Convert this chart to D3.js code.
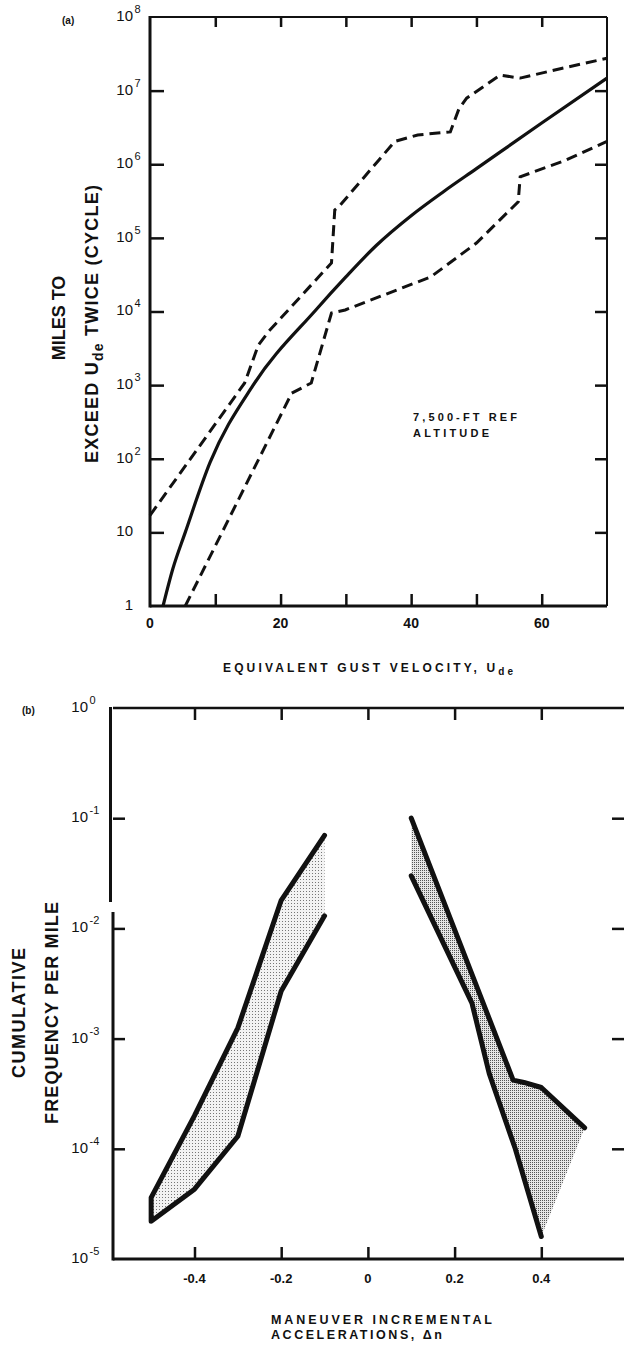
<!DOCTYPE html>
<html>
<head>
<meta charset="utf-8">
<script src="https://cdn.jsdelivr.net/npm/d3@7"></script>
<style>
  body { margin: 0; background: #fff; }
  svg { display: block; font-family: "Liberation Sans", Arial, Helvetica, sans-serif; }
</style>
</head>
<body>
<svg id="fig" width="624" height="1347"></svg>
<script>
// ---------- (a) miles to exceed a gust velocity twice ----------
const gustLabelTicks = [0, 20, 40, 60];
const gustTicks = [10, 20, 30, 40, 50, 60];
const milesTicks = [1, 10, 1e2, 1e3, 1e4, 1e5, 1e6, 1e7, 1e8];

const meanGust  = [2, 3.5, 5.4, 9.2, 15.8, 25.4, 30, 34.7, 40, 45, 50, 60, 70];
const meanMiles = [1, 3.2, 10, 89, 1000, 10500, 29500, 79400, 200000, 427000, 871000, 3.63e6, 1.48e7];

const upperGust  = [0, 14.5, 16.6, 18.2, 27.8, 28.3, 29, 37.5, 41, 46, 47.3, 48.5, 53.6, 56.7, 63, 70];
const upperMiles = [17, 1070, 3500, 5400, 45700, 240000, 270000, 2.04e6, 2.5e6, 2.75e6, 5.6e6, 7.9e6, 1.62e7, 1.48e7, 2.0e7, 2.75e7];

const lowerGust  = [5.4, 21.7, 24.7, 27.8, 29.9, 36, 43, 50, 56.4, 56.7, 63.3, 70];
const lowerMiles = [1, 776, 1070, 9550, 10500, 17000, 29500, 85000, 309000, 676000, 1.1e6, 2.04e6];

// ---------- (b) maneuver load factor exceedance ----------
const accelTicks = [-0.4, -0.2, 0, 0.2, 0.4];
const accelTickLabels = ["-0.4", "-0.2", "0", "0.2", "0.4"];
const freqTicks = [1, 1e-1, 1e-2, 1e-3, 1e-4, 1e-5];
const freqExponents = ["0", "-1", "-2", "-3", "-4", "-5"];

const negAccel     = [-0.5, -0.4, -0.3, -0.2, -0.1];
const negUpperFreq = [3.6e-5, 2e-4, 1.25e-3, 1.8e-2, 7e-2];
const negLowerFreq = [2.2e-5, 4.3e-5, 1.3e-4, 2.7e-3, 1.3e-2];

const posUpperAccel = [0.1, 0.335, 0.36, 0.4, 0.5];
const posUpperFreq  = [0.1, 4.2e-4, 4e-4, 3.6e-4, 1.55e-4];
const posLowerAccel = [0.1, 0.24, 0.28, 0.34, 0.4];
const posLowerFreq  = [3e-2, 2.1e-3, 4.8e-4, 1.0e-4, 1.6e-5];

const svg = d3.select("#fig");
const ink = "#111";

// stipple fills for the scatter bands
const defs = svg.append("defs");
const light = defs.append("pattern").attr("id", "stippleLight")
  .attr("width", 3).attr("height", 3).attr("patternUnits", "userSpaceOnUse");
light.append("rect").attr("width", 3).attr("height", 3).attr("fill", "#f3f3f3");
light.append("rect").attr("x", 0).attr("y", 0).attr("width", 1).attr("height", 1).attr("fill", "#777");
const dense = defs.append("pattern").attr("id", "stippleDense")
  .attr("width", 2).attr("height", 2).attr("patternUnits", "userSpaceOnUse");
dense.append("rect").attr("width", 2).attr("height", 2).attr("fill", "#e6e6e6");
dense.append("rect").attr("x", 0).attr("y", 0).attr("width", 1).attr("height", 1).attr("fill", "#555");

function zip(xs, ys) { return xs.map((x, i) => ({ x, y: ys[i] })); }

// "10" with a raised exponent, the base right-aligned at bx
function powerLabel(g, bx, y, base, exp, size, expSize) {
  g.append("text").attr("x", bx).attr("y", y).attr("text-anchor", "end")
    .attr("dominant-baseline", "middle").attr("font-size", size).attr("fill", ink).text(base);
  if (exp !== null) {
    g.append("text").attr("x", bx + 1.5).attr("y", y - 7).attr("dominant-baseline", "middle")
      .attr("font-size", expSize).attr("fill", ink).text(exp);
  }
}

// ================= (a) =================
const xa = d3.scaleLinear().domain([0, 70]).range([150, 607]);
const ya = d3.scaleLog().domain([1, 1e8]).range([606, 17]);
const ga = svg.append("g");

// frame
ga.append("line").attr("x1", xa(0)).attr("x2", xa(70)).attr("y1", ya(1e8)).attr("y2", ya(1e8))
  .attr("stroke", ink).attr("stroke-width", 2);
ga.append("line").attr("x1", xa(70)).attr("x2", xa(70)).attr("y1", ya(1e8)).attr("y2", ya(1))
  .attr("stroke", ink).attr("stroke-width", 2);

// inward ticks
ga.append("g").attr("transform", `translate(0,${ya(1)})`)
  .call(d3.axisBottom(xa).tickValues(gustTicks).tickSize(-12).tickFormat(""))
  .call(g => g.select(".domain").remove())
  .call(g => g.selectAll("line").attr("stroke", ink).attr("stroke-width", 2.5));
ga.append("g").attr("transform", `translate(0,${ya(1e8)})`)
  .call(d3.axisTop(xa).tickValues(gustTicks).tickSize(-10).tickFormat(""))
  .call(g => g.select(".domain").remove())
  .call(g => g.selectAll("line").attr("stroke", ink).attr("stroke-width", 2.5));
ga.append("g").attr("transform", `translate(${xa(0)},0)`)
  .call(d3.axisLeft(ya).tickValues(milesTicks.slice(1, -1)).tickSize(-14).tickFormat(""))
  .call(g => g.select(".domain").remove())
  .call(g => g.selectAll("line").attr("stroke", ink).attr("stroke-width", 2.5));
ga.append("g").attr("transform", `translate(${xa(70)},0)`)
  .call(d3.axisRight(ya).tickValues(milesTicks.slice(1, -1)).tickSize(-12).tickFormat(""))
  .call(g => g.select(".domain").remove())
  .call(g => g.selectAll("line").attr("stroke", ink).attr("stroke-width", 2.5));

// heavy left and bottom axes
ga.append("line").attr("x1", xa(0)).attr("x2", xa(0)).attr("y1", ya(1e8) - 1).attr("y2", ya(1) + 1.5)
  .attr("stroke", ink).attr("stroke-width", 3);
ga.append("line").attr("x1", xa(0)).attr("x2", xa(70)).attr("y1", ya(1)).attr("y2", ya(1))
  .attr("stroke", ink).attr("stroke-width", 3);

// tick labels
gustLabelTicks.forEach(v => {
  ga.append("text").attr("x", xa(v)).attr("y", ya(1) + 22).attr("text-anchor", "middle")
    .attr("font-size", 14).attr("font-weight", "bold").attr("fill", ink).text(v);
});
milesTicks.forEach(v => {
  const e = Math.round(Math.log10(v));
  if (e === 0) powerLabel(ga, 133, ya(v), "1", null, 15, 11);
  else if (e === 1) powerLabel(ga, 133, ya(v), "10", null, 15, 11);
  else powerLabel(ga, 133, ya(v), "10", String(e), 15, 11);
});

// curves
const lineA = d3.line().x(d => xa(d.x)).y(d => ya(d.y));
ga.append("path").datum(zip(meanGust, meanMiles))
  .attr("d", lineA.curve(d3.curveMonotoneX)).attr("fill", "none")
  .attr("stroke", ink).attr("stroke-width", 3.2);
const lineDash = d3.line().x(d => xa(d.x)).y(d => ya(d.y)).curve(d3.curveLinear);
[zip(upperGust, upperMiles), zip(lowerGust, lowerMiles)].forEach(pts => {
  ga.append("path").datum(pts).attr("d", lineDash).attr("fill", "none")
    .attr("stroke", ink).attr("stroke-width", 3).attr("stroke-dasharray", "11,6");
});

// labels
ga.append("text").attr("x", 62).attr("y", 24).attr("font-size", 10).attr("font-weight", "bold")
  .attr("fill", ink).text("(a)");
ga.append("text").attr("x", 413).attr("y", 421).attr("font-size", 11).attr("font-weight", "bold")
  .attr("fill", ink).attr("textLength", 104).attr("lengthAdjust", "spacing").text("7,500-FT REF");
ga.append("text").attr("x", 413).attr("y", 437).attr("font-size", 11).attr("font-weight", "bold")
  .attr("fill", ink).attr("textLength", 76).attr("lengthAdjust", "spacing").text("ALTITUDE");

const yLabA = ga.append("g").attr("transform", "translate(0,320) rotate(-90)")
  .attr("font-weight", "bold").attr("fill", ink).attr("text-anchor", "middle");
yLabA.append("text").attr("x", 2).attr("y", 65).attr("font-size", 18).text("MILES TO");
const l2 = yLabA.append("text").attr("x", -4).attr("y", 98).attr("font-size", 18)
  .attr("textLength", 278).attr("lengthAdjust", "spacing");
l2.append("tspan").text("EXCEED U");
l2.append("tspan").attr("dy", 5).attr("font-size", 14).text("de");
l2.append("tspan").attr("dy", -5).text(" TWICE (CYCLE)");

const xLabA = ga.append("text").attr("x", 368).attr("y", 672).attr("text-anchor", "middle")
  .attr("font-size", 12).attr("font-weight", "bold").attr("fill", ink)
  .attr("textLength", 290).attr("lengthAdjust", "spacing");
xLabA.append("tspan").text("EQUIVALENT GUST VELOCITY, U");
xLabA.append("tspan").attr("dy", 3).attr("font-size", 10).text("de");

// ================= (b) =================
const xb = d3.scaleLinear().domain([-0.588, 0.6]).range([113, 628]);
const yb = d3.scaleLog().domain([1e-5, 1]).range([1259, 708]);
const gb = svg.append("g");

// bands
const lineB = d3.line().x(d => xb(d.x)).y(d => yb(d.y));
const negUpper = zip(negAccel, negUpperFreq);
const negLower = zip(negAccel, negLowerFreq);
const posUpper = zip(posUpperAccel, posUpperFreq);
const posLower = zip(posLowerAccel, posLowerFreq);

gb.append("path").datum(negUpper.concat(negLower.slice().reverse()))
  .attr("d", d => lineB(d) + "Z").attr("fill", "url(#stippleLight)");
gb.append("path").datum(posUpper.concat(posLower.slice().reverse()))
  .attr("d", d => lineB(d) + "Z").attr("fill", "url(#stippleDense)");

const bandStroke = p => p.attr("fill", "none").attr("stroke", ink).attr("stroke-width", 5)
  .attr("stroke-linejoin", "round").attr("stroke-linecap", "round");
gb.append("path").datum(negUpper.slice().reverse().concat(negLower)).attr("d", lineB).call(bandStroke);
gb.append("path").datum(posUpper).attr("d", lineB).call(bandStroke);
gb.append("path").datum(posLower).attr("d", lineB).call(bandStroke);

// frame and ticks
gb.append("line").attr("x1", xb(-0.588)).attr("x2", 624).attr("y1", yb(1)).attr("y2", yb(1))
  .attr("stroke", ink).attr("stroke-width", 2.5);
gb.append("line").attr("x1", xb(-0.588)).attr("x2", 624).attr("y1", yb(1e-5)).attr("y2", yb(1e-5))
  .attr("stroke", ink).attr("stroke-width", 3);
// left axis, broken between 10^-1 and 10^-2
gb.append("line").attr("x1", xb(-0.588) - 2.5).attr("x2", xb(-0.588) - 2.5)
  .attr("y1", yb(1) - 1).attr("y2", 902).attr("stroke", ink).attr("stroke-width", 3);
gb.append("line").attr("x1", xb(-0.588)).attr("x2", xb(-0.588))
  .attr("y1", 912).attr("y2", yb(1e-5) + 1.5).attr("stroke", ink).attr("stroke-width", 3);

gb.append("g").attr("transform", `translate(0,${yb(1e-5)})`)
  .call(d3.axisBottom(xb).tickValues(accelTicks).tickSize(-12).tickFormat(""))
  .call(g => g.select(".domain").remove())
  .call(g => g.selectAll("line").attr("stroke", ink).attr("stroke-width", 2.5));
gb.append("g").attr("transform", `translate(0,${yb(1)})`)
  .call(d3.axisTop(xb).tickValues(accelTicks).tickSize(-12).tickFormat(""))
  .call(g => g.select(".domain").remove())
  .call(g => g.selectAll("line").attr("stroke", ink).attr("stroke-width", 2.5));
gb.append("g").attr("transform", `translate(${xb(-0.588)},0)`)
  .call(d3.axisLeft(yb).tickValues(freqTicks.slice(1, -1)).tickSize(-12).tickFormat(""))
  .call(g => g.select(".domain").remove())
  .call(g => g.selectAll("line").attr("stroke", ink).attr("stroke-width", 2.5));
gb.append("g").attr("transform", `translate(${xb(0.6)},0)`)
  .call(d3.axisRight(yb).tickValues(freqTicks.slice(1, -1)).tickSize(-16).tickFormat(""))
  .call(g => g.select(".domain").remove())
  .call(g => g.selectAll("line").attr("stroke", ink).attr("stroke-width", 2.5));

accelTicks.forEach((v, i) => {
  gb.append("text").attr("x", xb(v)).attr("y", yb(1e-5) + 24).attr("text-anchor", "middle")
    .attr("font-size", 13).attr("font-weight", "bold").attr("fill", ink).text(accelTickLabels[i]);
});
freqTicks.forEach((v, i) => powerLabel(gb, 88, yb(v), "10", freqExponents[i], 15, 11));

gb.append("text").attr("x", 22).attr("y", 714).attr("font-size", 10).attr("font-weight", "bold")
  .attr("fill", ink).text("(b)");

const yLabB = gb.append("g").attr("transform", "translate(0,1013) rotate(-90)")
  .attr("font-weight", "bold").attr("fill", ink).attr("text-anchor", "middle").attr("font-size", 18);
yLabB.append("text").attr("x", 0).attr("y", 25).attr("textLength", 130)
  .attr("lengthAdjust", "spacing").text("CUMULATIVE");
yLabB.append("text").attr("x", 0).attr("y", 58).attr("textLength", 222)
  .attr("lengthAdjust", "spacing").text("FREQUENCY PER MILE");

const xLabB = gb.append("g").attr("font-weight", "bold").attr("fill", ink).attr("font-size", 12.5);
xLabB.append("text").attr("x", 271).attr("y", 1324).attr("textLength", 221)
  .attr("lengthAdjust", "spacing").text("MANEUVER INCREMENTAL");
xLabB.append("text").attr("x", 271).attr("y", 1339).attr("textLength", 171)
  .attr("lengthAdjust", "spacing").text("ACCELERATIONS, \u0394n");
</script>
</body>
</html>
